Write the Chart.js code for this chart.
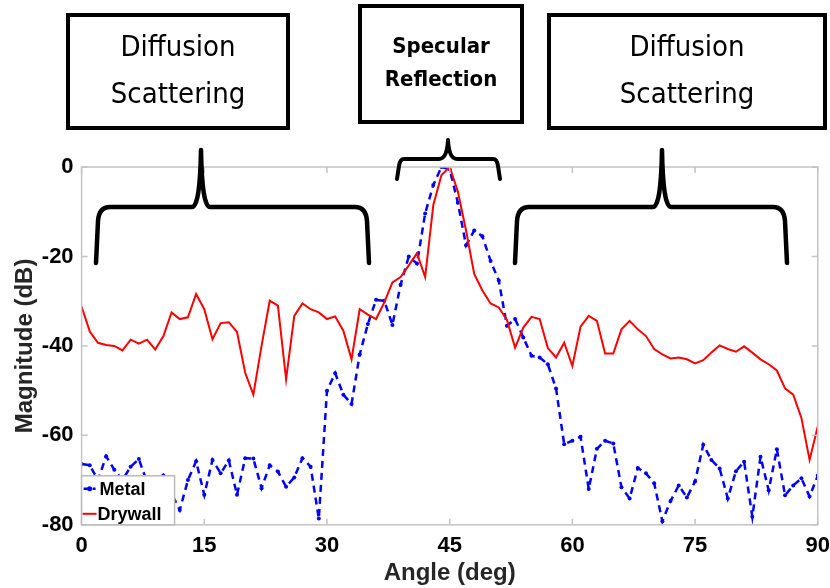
<!DOCTYPE html>
<html>
<head>
<meta charset="utf-8">
<script src="https://cdn.jsdelivr.net/npm/chart.js@4.4.1/dist/chart.umd.min.js"></script>
<style>
    body { margin: 0; background: #fff; }
    #wrap { width: 830px; height: 588px; }
</style>
</head>
<body>
<div id="wrap"><canvas id="chart"></canvas></div>
<script>
// Data (1 degree steps)
const angles = [0, 1, 2, 3, 4, 5, 6, 7, 8, 9, 10, 11, 12, 13, 14, 15, 16, 17, 18, 19,
    20, 21, 22, 23, 24, 25, 26, 27, 28, 29, 30, 31, 32, 33, 34, 35, 36, 37, 38, 39,
    40, 41, 42, 43, 44, 45, 46, 47, 48, 49, 50, 51, 52, 53, 54, 55, 56, 57, 58, 59,
    60, 61, 62, 63, 64, 65, 66, 67, 68, 69, 70, 71, 72, 73, 74, 75, 76, 77, 78, 79,
    80, 81, 82, 83, 84, 85, 86, 87, 88, 89, 90];

const metal = [-66.4, -66.7, -70, -64.7, -67.7, -70, -67, -65.3, -70.5, -72,
    -69, -73, -76.7, -70, -65.8, -73.3, -65.5, -68.5, -65.6, -73.3,
    -65.1, -65.2, -71.8, -66.7, -68.1, -71.5, -69.4, -65.1, -67, -78.6,
    -50, -46.1, -50.9, -53, -41.9, -35.1, -29.7, -29.9, -35.3, -26.3,
    -20, -21.6, -10.4, -4, 0, -0.5, -8, -17.5, -14.2, -15.5,
    -21, -25.4, -35.5, -34, -38.1, -42.2, -42.6, -44.1, -49.5, -62,
    -61.2, -60.3, -72, -63, -61.2, -61.8, -71.6, -74.1, -67.3, -68.5,
    -70.7, -79.2, -74.7, -71.2, -73.9, -70.3, -62.1, -65.5, -67.4, -74.1,
    -68, -65.9, -78.2, -64.8, -72.3, -63.1, -73.4, -71.2, -69.6, -73.7,
    -69];

const drywall = [-31.2, -36.8, -39.3, -39.8, -40, -41, -38.6, -39.5, -38.6, -40.8,
    -37.8, -32.5, -34, -33.6, -28.4, -31.8, -38.5, -34.9, -34.7, -36.9,
    -46, -50.9, -40, -29.9, -31, -47.5, -33.3, -30.5, -31.8, -32.5,
    -34, -33.4, -36.6, -43, -31.8, -33, -34, -30.3, -25.8, -24.6,
    -22, -19.3, -24.6, -8.5, -1.8, 0, -5.5, -14.2, -23.9, -27.6,
    -30.5, -31.4, -34.2, -40.4, -35.9, -33.5, -34, -40.5, -42.6, -39.3,
    -44.5, -35.7, -33.3, -34.4, -41.7, -41.7, -36.3, -34.4, -36.3, -37.8,
    -40.7, -41.9, -42.8, -42.6, -43, -43.9, -43.2, -41.5, -39.9, -40.7,
    -41.3, -40.1, -41.5, -43, -44.1, -45.5, -49.5, -50.9, -56.1, -65.5,
    -58];

const xTicks = [0, 15, 30, 45, 60, 75, 90];
const yTicks = [0, -20, -40, -60, -80];

// Annotation boxes above the plot
const regionBoxes = [
    { x: 68, y: 15, w: 220, h: 113, lines: ['Diffusion', 'Scattering'], size: 29, bold: false },
    { x: 360, y: 6, w: 162, h: 116, lines: ['Specular', 'Reflection'], size: 22, bold: true },
    { x: 549, y: 15, w: 276, h: 113, lines: ['Diffusion', 'Scattering'], size: 29, bold: false }
];

const toPoints = (ys) => angles.map((a, i) => ({ x: a, y: ys[i] }));

function drawBrace(ctx, x1, x2, yEnd, yBar, xPeak, yPeak, r) {
    ctx.beginPath();
    ctx.moveTo(x1, yEnd);
    ctx.lineTo(x1 + 2, yBar + r);
    ctx.quadraticCurveTo(x1 + 3, yBar, x1 + r, yBar);
    ctx.lineTo(xPeak - 9, yBar);
    ctx.quadraticCurveTo(xPeak - 1, yBar, xPeak, yPeak);
    ctx.quadraticCurveTo(xPeak + 1, yBar, xPeak + 9, yBar);
    ctx.lineTo(x2 - r, yBar);
    ctx.quadraticCurveTo(x2 - 3, yBar, x2 - 2, yBar + r);
    ctx.lineTo(x2, yEnd);
    ctx.stroke();
}

const overlay = {
    id: 'overlay',
    afterDatasetsDraw(chart) {
        const ctx = chart.ctx;
        const a = chart.chartArea;
        const xs = chart.scales.x, ys = chart.scales.y;
        ctx.save();

        // axes box + inward ticks (MATLAB style)
        ctx.strokeStyle = '#c4c4c4';
        ctx.lineWidth = 1.5;
        ctx.strokeRect(a.left, a.top, a.right - a.left, a.bottom - a.top);
        ctx.beginPath();
        xTicks.forEach(t => {
            const px = xs.getPixelForValue(t);
            ctx.moveTo(px, a.bottom); ctx.lineTo(px, a.bottom - 6);
            ctx.moveTo(px, a.top); ctx.lineTo(px, a.top + 6);
        });
        yTicks.forEach(t => {
            const py = ys.getPixelForValue(t);
            ctx.moveTo(a.left, py); ctx.lineTo(a.left + 6, py);
            ctx.moveTo(a.right, py); ctx.lineTo(a.right - 6, py);
        });
        ctx.stroke();

        // legend inside the axes, bottom left
        const lx = a.left, ly = a.bottom - 49;
        ctx.fillStyle = '#fff';
        ctx.fillRect(lx, ly, 93, 49);
        ctx.strokeStyle = '#bbbbbb';
        ctx.lineWidth = 1.5;
        ctx.strokeRect(lx, ly, 93, 49);
        ctx.lineWidth = 2.5;
        ctx.strokeStyle = '#0000ff';
        ctx.setLineDash([5, 4]);
        ctx.beginPath(); ctx.moveTo(lx + 2, ly + 13); ctx.lineTo(lx + 14, ly + 13); ctx.stroke();
        ctx.setLineDash([]);
        ctx.fillStyle = '#0000ff';
        ctx.beginPath(); ctx.arc(lx + 8, ly + 13, 2.5, 0, Math.PI * 2); ctx.fill();
        ctx.strokeStyle = '#ff0000';
        ctx.lineWidth = 2;
        ctx.beginPath(); ctx.moveTo(lx + 1, ly + 38); ctx.lineTo(lx + 15, ly + 38); ctx.stroke();
        ctx.fillStyle = '#000';
        ctx.font = 'bold 18px "Liberation Sans", Arial, sans-serif';
        ctx.textBaseline = 'middle';
        ctx.textAlign = 'left';
        ctx.fillText('Metal', lx + 18, ly + 14);
        ctx.fillText('Drywall', lx + 16, ly + 39);

        // braces
        ctx.strokeStyle = '#000';
        ctx.lineCap = 'round';
        ctx.lineJoin = 'round';
        ctx.lineWidth = 4.5;
        drawBrace(ctx, 96, 369, 263, 207, 201, 150, 14);
        drawBrace(ctx, 515, 787, 263, 207, 662, 150, 14);
        ctx.lineWidth = 4;
        drawBrace(ctx, 397, 500, 179, 159, 448, 140, 7);

        // region boxes
        ctx.lineCap = 'butt';
        ctx.lineJoin = 'miter';
        regionBoxes.forEach(b => {
            ctx.fillStyle = '#fff';
            ctx.fillRect(b.x, b.y, b.w, b.h);
            ctx.strokeStyle = '#000';
            ctx.lineWidth = 4;
            ctx.strokeRect(b.x, b.y, b.w, b.h);
            ctx.fillStyle = '#000';
            ctx.textAlign = 'center';
            ctx.textBaseline = 'middle';
            ctx.font = (b.bold ? 'bold ' : '') + b.size + 'px "DejaVu Sans Condensed", "Liberation Sans Narrow", "Open Sans", sans-serif';
            const cx = b.x + b.w / 2;
            const gap = b.bold ? 33 : 47;
            const cy = b.y + b.h / 2;
            ctx.fillText(b.lines[0], cx, cy - gap / 2);
            ctx.fillText(b.lines[1], cx, cy + gap / 2);
        });
        ctx.restore();
    }
};

const tickFont = { family: '"Liberation Sans", Arial, sans-serif', size: 22, weight: 'bold' };
const titleFont = { family: '"Liberation Sans", Arial, sans-serif', size: 24, weight: 'bold' };

new Chart(document.getElementById('chart'), {
    type: 'line',
    data: {
        datasets: [{
            label: 'Metal',
            data: toPoints(metal),
            borderColor: '#0000ff',
            backgroundColor: '#0000ff',
            borderWidth: 2.5,
            borderDash: [7, 5],
            pointRadius: 2,
            pointBorderWidth: 0,
            pointBackgroundColor: '#0000ff',
            tension: 0,
            order: 2
        }, {
            label: 'Drywall',
            data: toPoints(drywall),
            borderColor: '#ff0000',
            backgroundColor: '#ff0000',
            borderWidth: 2,
            pointRadius: 0,
            tension: 0,
            order: 1
        }]
    },
    options: {
        responsive: true,
        maintainAspectRatio: false,
        animation: false,
        layout: { padding: { top: 167, right: 0, left: 11, bottom: 0 } },
        plugins: {
            legend: { display: false },
            tooltip: { enabled: false }
        },
        scales: {
            x: {
                type: 'linear',
                min: 0,
                max: 90,
                afterBuildTicks: (s) => { s.ticks = xTicks.map(v => ({ value: v })); },
                ticks: { font: tickFont, color: '#000', padding: 0 },
                grid: { display: false },
                border: { display: false },
                title: { display: true, text: 'Angle (deg)', font: titleFont, color: '#262626', padding: { top: 0, bottom: 0 } }
            },
            y: {
                min: -80,
                max: 0,
                afterBuildTicks: (s) => { s.ticks = yTicks.map(v => ({ value: v })); },
                ticks: { font: tickFont, color: '#000', padding: 0 },
                grid: { display: false },
                border: { display: false },
                title: { display: true, text: 'Magnitude (dB)', font: titleFont, color: '#262626', padding: { top: 0, bottom: 2 } }
            }
        }
    },
    plugins: [overlay]
});
</script>
</body>
</html>
